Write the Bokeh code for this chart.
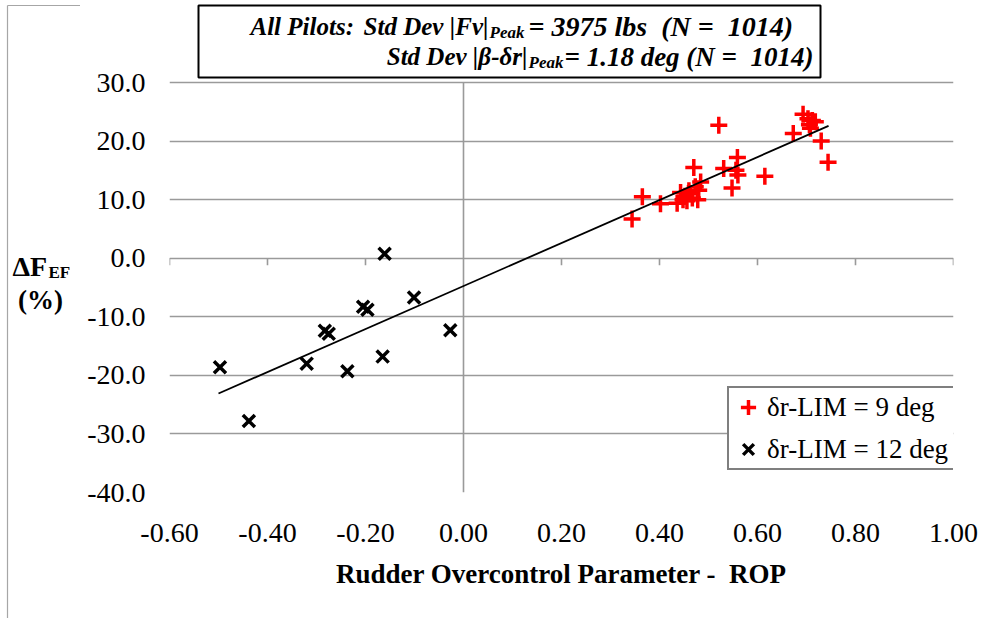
from bokeh.plotting import figure
from bokeh.layouts import row
from bokeh.models import (Range1d, FixedTicker, PrintfTickFormatter, Label,
                          BoxAnnotation, Legend, LegendItem)
from bokeh.core.properties import value
from bokeh.embed import file_html
from bokeh.resources import INLINE

# ---------------- data ----------------
rop_9 = [0.344, 0.365, 0.402, 0.436, 0.443, 0.448, 0.452, 0.456, 0.460, 0.463,
         0.467, 0.470, 0.473, 0.478, 0.480, 0.484, 0.521, 0.531, 0.548, 0.556,
         0.559, 0.560, 0.615, 0.673, 0.693, 0.703, 0.706, 0.708, 0.712, 0.718,
         0.730, 0.744]
dfef_9 = [6.7, 10.5, 9.3, 9.4, 11.2, 10.0, 10.6, 9.8, 11.5, 11.0,
          10.3, 15.5, 12.2, 10.0, 11.6, 13.0, 22.7, 15.3, 12.0, 15.0,
          17.2, 14.2, 14.0, 21.3, 24.6, 23.8, 22.8, 22.2, 23.5, 23.3,
          20.0, 16.4]

rop_12 = [-0.497, -0.438, -0.320, -0.283, -0.275, -0.237, -0.205, -0.196,
          -0.165, -0.161, -0.101, -0.027]
dfef_12 = [-18.6, -27.8, -18.0, -12.4, -12.9, -19.3, -8.3, -8.8,
           -16.8, 0.75, -6.7, -12.3]

trend_slope = 36.7
trend_intercept = -4.75
trend_x = [-0.50, 0.745]

x_ticks = [-0.6, -0.4, -0.2, 0.0, 0.2, 0.4, 0.6, 0.8, 1.0]
y_ticks = [-40, -30, -20, -10, 0, 10, 20, 30]

NB = "\u00a0"
legend_labels = ["δr-LIM = 9 deg", "δr-LIM = 12 deg"]
x_title = "Rudder Overcontrol Parameter -" + NB + NB + "ROP"
box_line1 = ["All Pilots:", "Std Dev |Fv|", "Peak",
             "= 3975 lbs" + NB + NB + "(N =" + NB + NB + "1014)"]
box_line2 = ["Std Dev |β-δr|", "Peak", "= 1.18 deg (N =" + NB + NB + "1014)"]
y_title = ["ΔF", "EF", "(%)"]

# ---------------- layout ----------------
SERIF = "Liberation Serif"
LEFT_W = 80                     # narrow panel holding the y title
W, H = 982 - LEFT_W, 618
FRAME_L_PAGE, FRAME_R_PAGE, FRAME_B_PAGE = 169, 953, 492
px_per_unit = 410 / 70.0        # gridline spacing in reference
y_top = y_ticks[0] + FRAME_B_PAGE / px_per_unit   # frame reaches page top

p = figure(width=W, height=H, x_range=Range1d(x_ticks[0], x_ticks[-1]),
           y_range=Range1d(y_ticks[0], y_top),
           output_backend="svg", toolbar_location=None,
           min_border_left=FRAME_L_PAGE - LEFT_W,
           min_border_right=982 - FRAME_R_PAGE,
           min_border_top=0, min_border_bottom=H - FRAME_B_PAGE)
p.outline_line_color = None
p.background_fill_color = "white"
p.border_fill_color = "white"

p.xgrid.visible = False
p.ygrid.ticker = FixedTicker(ticks=y_ticks)
p.ygrid.grid_line_color = "#9a9a9a"
p.ygrid.grid_line_width = 1.6

for ax in (p.xaxis[0], p.yaxis[0]):
    ax.axis_line_color = None
    ax.major_tick_line_color = None
    ax.minor_tick_line_color = None
    ax.major_label_text_font = SERIF
    ax.major_label_text_font_size = "28px"
    ax.major_label_text_color = "black"

p.xaxis.ticker = FixedTicker(ticks=x_ticks)
p.xaxis.formatter = PrintfTickFormatter(format="%.2f")
p.xaxis.major_label_standoff = 25
p.xaxis.axis_label = x_title
p.xaxis.axis_label_text_font = SERIF
p.xaxis.axis_label_text_font_style = "bold"
p.xaxis.axis_label_text_font_size = "27px"
p.xaxis.axis_label_text_color = "black"
p.xaxis.axis_label_standoff = 14

p.yaxis.ticker = FixedTicker(ticks=y_ticks)
p.yaxis.formatter = PrintfTickFormatter(format="%.1f")
p.yaxis.major_label_standoff = 18

# vertical axis line at x = 0 and tick marks of the horizontal axis at y = 0
p.segment(x0=[0], y0=[y_ticks[0]], x1=[0], y1=[y_ticks[-1]],
          line_color="#9a9a9a", line_width=1.6)
tick_len = 7 / px_per_unit
xt = [t for t in x_ticks if t != 0]
p.segment(x0=xt, y0=[0] * len(xt), x1=xt, y1=[-tick_len] * len(xt),
          line_color="#9a9a9a", line_width=1.6)

# ---------------- data marks ----------------
r9 = p.scatter(rop_9, dfef_9, marker="cross", size=17,
               line_color="#ff0000", line_width=3.5)
r12 = p.scatter(rop_12, dfef_12, marker="x", size=17,
                line_color="black", line_width=3.5)
p.line(trend_x, [trend_slope * x + trend_intercept for x in trend_x],
       line_color="black", line_width=1.8)

legend = Legend(items=[LegendItem(label=legend_labels[0], renderers=[r9]),
                       LegendItem(label=legend_labels[1], renderers=[r12])],
                location=(727 - FRAME_L_PAGE, FRAME_B_PAGE - 470),
                orientation="vertical")
legend.border_line_color = "black"
legend.border_line_width = 2
legend.background_fill_color = "white"
legend.background_fill_alpha = 1
legend.padding = 0
legend.spacing = 4
legend.margin = 0
legend.glyph_height = 38
legend.glyph_width = 38
legend.label_height = 38
legend.label_width = 186
legend.label_standoff = 0
legend.label_text_font = SERIF
legend.label_text_font_size = "27px"
legend.label_text_color = "black"
p.add_layout(legend)

# ---------------- note box (screen coords relative to frame) ----------------
def sx(px):
    return px - FRAME_L_PAGE

def sy(py):
    return FRAME_B_PAGE - py

p.add_layout(BoxAnnotation(left=sx(198), right=sx(820), top=sy(5), bottom=sy(77),
                           left_units="screen", right_units="screen",
                           top_units="screen", bottom_units="screen",
                           fill_color="white", fill_alpha=1,
                           line_color="black", line_width=2, line_alpha=1))

def lab(x, y, text, size, align="left", style="bold italic"):
    p.add_layout(Label(x=x, y=y, x_units="screen", y_units="screen", text=text,
                       text_font=SERIF, text_font_size=size,
                       text_font_style=style, text_align=align,
                       text_baseline="alphabetic", text_color="black"))

lab(sx(250), sy(26), box_line1[0], "25px")
lab(sx(488), sy(26), box_line1[1], "25px", "right")
lab(sx(489), sy(32), box_line1[2], "17px")
lab(sx(528), sy(26), box_line1[3], "28px")
lab(sx(527), sy(56), box_line2[0], "25px", "right")
lab(sx(528), sy(62), box_line2[1], "17px")
lab(sx(564), sy(56), box_line2[2], "27px")

# ---------------- left panel: y-axis title and chart frame edge ----------------
q = figure(width=LEFT_W, height=H, x_range=Range1d(0, LEFT_W),
           output_backend="svg", toolbar_location=None,
           x_axis_location=None, y_axis_location=None,
           min_border_left=0, min_border_right=0,
           min_border_top=0, min_border_bottom=0)
try:
    q.frame_align = False
    q_frame_h = H
except Exception:
    q.min_border_bottom = H - FRAME_B_PAGE
    q_frame_h = FRAME_B_PAGE
q.y_range = Range1d(q_frame_h, 0)       # data y == page y
q.outline_line_color = None
q.grid.visible = False
q.background_fill_color = "white"
q.border_fill_color = "white"
q.segment(x0=[7], y0=[5], x1=[7], y1=[H], line_color="#a6a6a6", line_width=1.2)
q.segment(x0=[7], y0=[5], x1=[LEFT_W], y1=[5], line_color="#a6a6a6", line_width=1.2)
q.text(x=[12], y=[266], text=[y_title[0]], text_font=value(SERIF),
       text_font_style="bold", text_font_size="28px", text_baseline="alphabetic",
       text_color="black")
q.text(x=[48], y=[272], text=[y_title[1]], text_font=value(SERIF),
       text_font_style="bold", text_font_size="17px", text_baseline="alphabetic",
       text_color="black")
q.text(x=[40], y=[299], text=[y_title[2]], text_font=value(SERIF),
       text_font_style="bold", text_font_size="27px", text_baseline="alphabetic",
       text_align="center", text_color="black")

layout = row(q, p)
open("out.html", "w").write(file_html(layout, INLINE))
